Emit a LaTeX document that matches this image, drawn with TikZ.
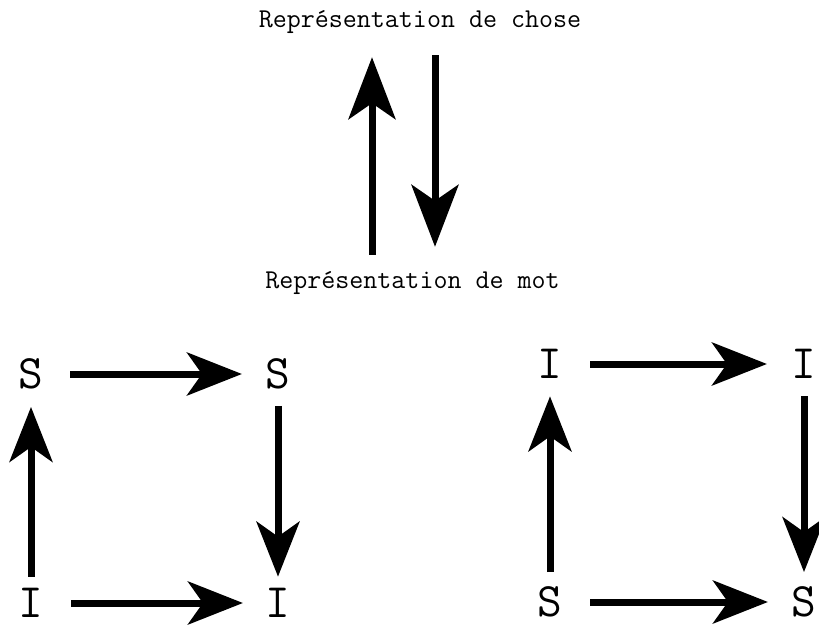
\documentclass[tikz,border=0pt]{standalone}
\usepackage{fontspec}
\usetikzlibrary{arrows.meta}
\begin{document}
\begin{tikzpicture}[x=1pt,y=-1pt,
  lbl/.style={font=\ttfamily\fontsize{27.2}{32}\selectfont, inner sep=0pt, anchor=base, text height=18pt, text depth=5pt},
  letter/.style={font=\ttfamily\fontsize{48}{58}\selectfont, inner sep=0pt},
  bigarr/.style={line width=7pt, -{Stealth[length=62pt,width=47pt,inset=16pt]}},
  arr/.style={line width=7pt, -{Stealth[length=55pt,width=43pt,inset=15pt]}}]
\useasboundingbox (0,0) rectangle (819,628);
% top labels
\node[lbl] (chose) at (420,28) {Représentation de chose};
\node[lbl] (mot) at (412.5,288) {Représentation de mot};
\coordinate (upx) at (372,0);
\coordinate (dnx) at (435,0);
\draw[bigarr, shorten <=15pt, shorten >=24pt] (mot.north -| upx) -- (chose.south -| upx);
\draw[bigarr, shorten <=22pt, shorten >=23pt] (chose.south -| dnx) -- (mot.north -| dnx);
% left square
\node[letter] (S1) at (31,374) {S};
\node[letter] (S2) at (278,374) {S};
\node[letter] (I1) at (31,603) {I};
\node[letter] (I2) at (278,603) {I};
\draw[arr, shorten <=26.5pt, shorten >=23.5pt] (S1) -- (S2);
\draw[arr, shorten <=16.5pt, shorten >=11.5pt] (S2) -- (I2);
\draw[arr, shorten <=27.5pt, shorten >=22.5pt] (I1) -- (I2);
\draw[arr, shorten <=11.5pt, shorten >=17.5pt] (I1) -- (S1);
% right square
\node[letter] (I3) at (550,364) {I};
\node[letter] (I4) at (804,364) {I};
\node[letter] (S3) at (550,602) {S};
\node[letter] (S4) at (804,602) {S};
\draw[arr, shorten <=27.5pt, shorten >=24.5pt] (I3) -- (I4);
\draw[arr, shorten <=17.5pt, shorten >=14.5pt] (I4) -- (S4);
\draw[arr, shorten <=27.5pt, shorten >=23.5pt] (S3) -- (S4);
\draw[arr, shorten <=14.5pt, shorten >=17.5pt] (S3) -- (I3);
\end{tikzpicture}
\end{document}
